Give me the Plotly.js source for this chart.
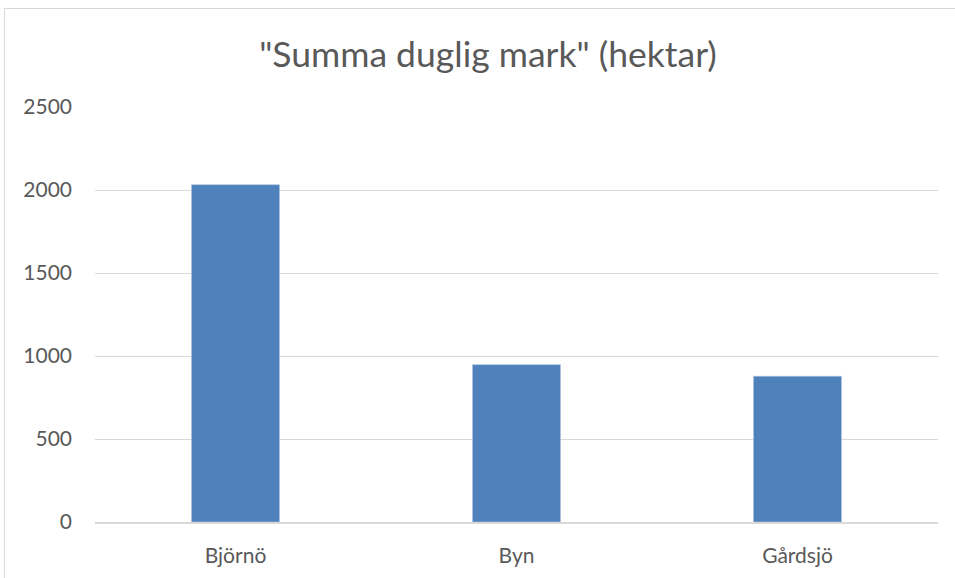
<!DOCTYPE html>
<html><head><meta charset="utf-8">
<script src="https://cdn.plot.ly/plotly-3.0.1.min.js"></script>
<style>
html,body{margin:0;padding:0;background:#fff;overflow:hidden;}
#frame{position:absolute;left:4px;top:8px;width:1000px;height:600px;border-left:1px solid #d9d9d9;border-top:1px solid #d9d9d9;}
#chart{position:absolute;left:0;top:0;width:955px;height:578px;}
</style></head>
<body>
<div id="frame"></div>
<div id="chart"></div>
<script>
const categories = ["Björnö", "Byn", "Gårdsjö"];
const values = [2032, 948, 878];
const yTicks = [0, 500, 1000, 1500, 2000, 2500];
const titleText = '"Summa duglig mark" (hektar)';

const font = 'Lato, "Open Sans", sans-serif';
Plotly.newPlot('chart', [{
  type: 'bar', x: categories, y: values,
  marker: {color: '#4f81bd', line: {color: '#a9c1e0', width: 0.6}},
  hoverinfo: 'x+y'
}], {
  width: 955, height: 578,
  margin: {l: 95, r: 17, t: 107, b: 56, pad: 0},
  paper_bgcolor: 'rgba(0,0,0,0)', plot_bgcolor: 'rgba(0,0,0,0)',
  bargap: 0.687,
  title: {text: titleText, x: 0.511, xref: 'container', xanchor: 'center', y: 0.905, yanchor: 'middle',
          font: {family: font, size: 35.5, color: '#595959'}},
  xaxis: {showgrid: false, showline: true, linecolor: '#d9d9d9', linewidth: 1.5, ticks: '',
          tickfont: {family: font, size: 21, color: '#595959'}, ticklabelstandoff: 14},
  yaxis: {range: [0, 2500], tickvals: yTicks, showgrid: true, gridcolor: '#d9d9d9', gridwidth: 1,
          zeroline: false, showline: false, ticks: '',
          tickfont: {family: font, size: 21, color: '#595959'}, ticklabelstandoff: 22},
  showlegend: false
}, {displayModeBar: false, staticPlot: true});
</script>
</body></html>
